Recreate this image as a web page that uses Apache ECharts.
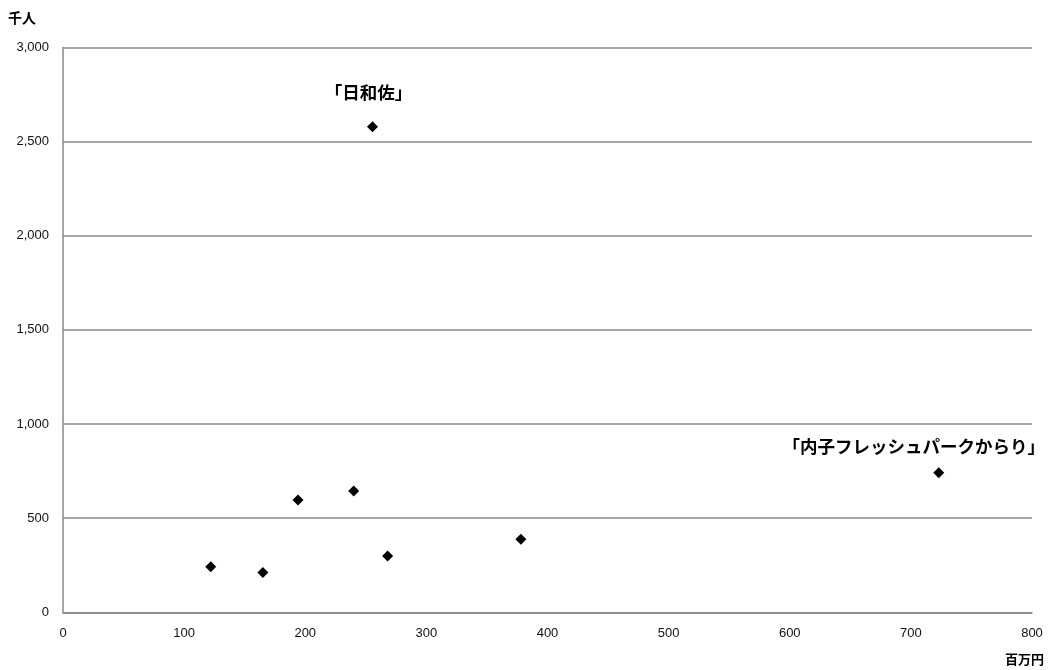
<!DOCTYPE html>
<html><head><meta charset="utf-8">
<script src="https://cdn.jsdelivr.net/npm/echarts@6/dist/echarts.min.js"></script>
<style>html,body{margin:0;padding:0;background:#fff}#c{width:1049px;height:670px}</style>
</head><body><div id="c"></div>
<script>
const xValues = [122, 165, 194, 240, 255.5, 268, 378, 723];
const yValues = [242, 212, 596, 644, 2579, 299, 388, 741];
const pointLabels = ['', '', '', '', '「日和佐」', '', '', '「内子フレッシュパークからり」'];
const xAxisName = '百万円';
const yAxisName = '千人';

const chart = echarts.init(document.getElementById('c'));
const data = xValues.map((x, i) => {
  const item = { value: [x, yValues[i]] };
  if (pointLabels[i]) {
    item.label = {
      show: true, formatter: pointLabels[i], position: 'top',
      distance: i === 4 ? 20 : 12,
      offset: i === 4 ? [-4, 0] : [-25, 0],
      fontFamily: 'Noto Sans CJK JP', fontWeight: 'bold', fontSize: 17.5, color: '#000'
    };
  }
  return item;
});
chart.setOption({
  animation: false,
  grid: { left: 63, right: 17, top: 47.5, bottom: 57.7 },
  xAxis: {
    type: 'value', min: 0, max: 800, interval: 100,
    axisLine: { show: true, lineStyle: { color: '#888', width: 1.5 } },
    axisTick: { show: false },
    splitLine: { show: false },
    axisLabel: { color: '#111', fontSize: 13, fontFamily: 'Liberation Sans', margin: 15 }
  },
  yAxis: {
    type: 'value', min: 0, max: 3000, interval: 500,
    axisLine: { show: true, lineStyle: { color: '#888', width: 1.5 } },
    axisTick: { show: false },
    splitLine: { show: true, lineStyle: { color: '#888', width: 1.5 } },
    axisLabel: { color: '#111', fontSize: 13, fontFamily: 'Liberation Sans', margin: 14,
      padding: [3, 0, 0, 0],
      formatter: v => v.toLocaleString('en-US') }
  },
  graphic: [
    { type: 'text', left: 8, top: 11, style: { text: yAxisName, font: 'bold 14px "Noto Sans CJK JP"', fill: '#000' } },
    { type: 'text', left: 1005, top: 653, style: { text: xAxisName, font: 'bold 13px "Noto Sans CJK JP"', fill: '#000' } }
  ],
  series: [{
    type: 'scatter', symbol: 'diamond', symbolSize: 11,
    itemStyle: { color: '#000', opacity: 1 },
    data: data
  }]
});
</script></body></html>
